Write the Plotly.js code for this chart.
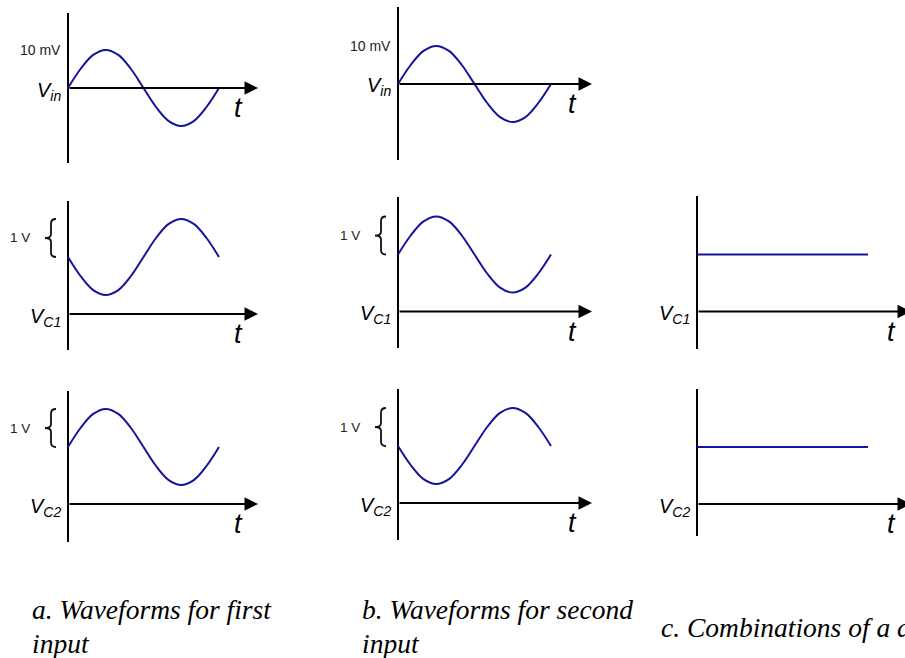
<!DOCTYPE html>
<html>
<head>
<meta charset="utf-8">
<script src="https://cdn.plot.ly/plotly-3.0.1.min.js"></script>
<style>html,body{margin:0;padding:0;background:#fff;}#chart{width:905px;height:658px;}</style>
</head>
<body>
<div id="chart"></div>
<script>
// ---- data ----
// time, in fractions of one period of the input signal
const tPeriod = [0, 0.083, 0.167, 0.25, 0.333, 0.417, 0.5, 0.583, 0.667, 0.75, 0.833, 0.917, 1];
// input signal, mV
const vinFirst  = [0, 5, 8.7, 10, 8.7, 5, 0, -5, -8.7, -10, -8.7, -5, 0];
const vinSecond = [0, 5, 8.7, 10, 8.7, 5, 0, -5, -8.7, -10, -8.7, -5, 0];
// collector voltages, V
const vc1First  = [1.5, 1.0, 0.63, 0.5, 0.63, 1.0, 1.5, 2.0, 2.37, 2.5, 2.37, 2.0, 1.5];
const vc2First  = [1.5, 2.0, 2.37, 2.5, 2.37, 2.0, 1.5, 1.0, 0.63, 0.5, 0.63, 1.0, 1.5];
const vc1Second = [1.5, 2.0, 2.37, 2.5, 2.37, 2.0, 1.5, 1.0, 0.63, 0.5, 0.63, 1.0, 1.5];
const vc2Second = [1.5, 1.0, 0.63, 0.5, 0.63, 1.0, 1.5, 2.0, 2.37, 2.5, 2.37, 2.0, 1.5];
// combined (DC) collector voltages, V
const tComb   = [0, 1.11];
const vc1Comb = [1.5, 1.5];
const vc2Comb = [1.5, 1.5];
// text
const inputAmplitudeLabel = '10 mV';
const inputAmplitude = 10;
const swingLabel = '1 V';
const captions = [
  ['a. Waveforms for first', 'input'],
  ['b. Waveforms for second', 'input'],
  ['c. Combinations of a and b']
];

// ---- layout geometry (pixels) ----
const W = 905, H = 658;
const PADL = 40;
const WAVE = '#14149a';
const panels = [
  {x0:68,  tip:258, top:13,  bot:163, zero:88,    pxT:151, pxU:3.8, t:tPeriod, v:vinFirst,  lab:'<i>V<sub>in</sub></i>', kind:'in'},
  {x0:68,  tip:258, top:201, bot:350, zero:314,   pxT:151, pxU:38,  t:tPeriod, v:vc1First,  lab:'<i>V<sub>C1</sub></i>', kind:'brace'},
  {x0:68,  tip:258, top:391, bot:542, zero:504,   pxT:151, pxU:38,  t:tPeriod, v:vc2First,  lab:'<i>V<sub>C2</sub></i>', kind:'brace'},
  {x0:398, tip:592, top:7,   bot:160, zero:84,    pxT:153, pxU:3.8, t:tPeriod, v:vinSecond, lab:'<i>V<sub>in</sub></i>', kind:'in'},
  {x0:398, tip:592, top:197, bot:348, zero:311.5, pxT:153, pxU:38,  t:tPeriod, v:vc1Second, lab:'<i>V<sub>C1</sub></i>', kind:'brace'},
  {x0:398, tip:592, top:389, bot:540, zero:503,   pxT:153, pxU:38,  t:tPeriod, v:vc2Second, lab:'<i>V<sub>C2</sub></i>', kind:'brace'},
  {x0:697, tip:911, top:196, bot:349, zero:311.5, pxT:154, pxU:38,  t:tComb,   v:vc1Comb,   lab:'<i>V<sub>C1</sub></i>', kind:'none'},
  {x0:697, tip:911, top:389, bot:536, zero:504,   pxT:154, pxU:38,  t:tComb,   v:vc2Comb,   lab:'<i>V<sub>C2</sub></i>', kind:'none'}
];

const traces = [];
const annotations = [];
const shapes = [];
const layout = {
  width: W, height: H,
  margin: {l:0, r:0, t:0, b:0, pad:0},
  paper_bgcolor: '#fff', plot_bgcolor: 'rgba(0,0,0,0)',
  showlegend: false,
  font: {family: 'Liberation Sans, Arial, sans-serif', color: '#000'}
};

panels.forEach((p, i) => {
  const n = i + 1;
  const xk = n === 1 ? 'xaxis' : 'xaxis' + n;
  const yk = n === 1 ? 'yaxis' : 'yaxis' + n;
  const xr = n === 1 ? 'x' : 'x' + n;
  const yr = n === 1 ? 'y' : 'y' + n;
  const right = Math.min(p.tip, W);
  const L = right - p.x0;
  // x axis: its zero line is the vertical voltage axis
  layout[xk] = {
    domain: [(p.x0 - PADL) / W, right / W], range: [-PADL / p.pxT, L / p.pxT],
    anchor: yr, showline: false, showgrid: false, ticks: '', showticklabels: false,
    zeroline: true, zerolinecolor: '#000', zerolinewidth: 2, fixedrange: true
  };
  layout[yk] = {
    domain: [1 - p.bot / H, 1 - p.top / H],
    range: [-(p.bot - p.zero) / p.pxU, (p.zero - p.top) / p.pxU],
    anchor: xr, visible: false, showgrid: false, zeroline: false, fixedrange: true
  };
  traces.push({x: p.t, y: p.v, xaxis: xr, yaxis: yr, mode: 'lines', hoverinfo: 'skip',
    line: {color: WAVE, width: 2, shape: p.kind === 'none' ? 'linear' : 'spline', smoothing: 1}});
  const tipT = (p.tip - p.x0) / p.pxT;
  // horizontal time axis with arrow
  annotations.push({xref: xr, yref: yr, x: tipT, y: 0, ax: 0, ay: 0, axref: xr, ayref: yr,
    text: '', showarrow: true, arrowhead: 2, arrowsize: 1.35, arrowwidth: 2, arrowcolor: '#000', standoff: 0});
  // t label
  annotations.push({xref: xr, yref: yr, x: (p.tip - 20 - p.x0) / p.pxT, y: 0, yshift: -20, text: '<i>t</i>',
    showarrow: false, font: {size: 27, family: 'Liberation Sans, Arial, sans-serif', color: '#000'}});
  // voltage name
  annotations.push({xref: xr, yref: yr, x: 0, y: 0, xanchor: 'right', xshift: -5, yshift: -3,
    text: p.lab, showarrow: false, font: {size: 20, family: 'Liberation Sans, Arial, sans-serif', color: '#000'}});
  if (p.kind === 'in') {
    annotations.push({xref: xr, yref: yr, x: 0, y: inputAmplitude, xanchor: 'right', xshift: -5,
      text: inputAmplitudeLabel, showarrow: false, font: {size: 14, color: '#222'}});
  }
  if (p.kind === 'brace') {
    const yb = p.v[0];
    const yt = Math.max(...p.v);
    const ym = (yb + yt) / 2;
    const c = 0.12, d = 0.1;
    const path = `M -12,${yt} Q -17,${yt} -17,${yt - c} L -17,${ym + d} Q -17,${ym} -23,${ym} ` +
                 `Q -17,${ym} -17,${ym - d} L -17,${yb + c} Q -17,${yb} -12,${yb}`;
    shapes.push({type: 'path', xref: xr, yref: yr, xsizemode: 'pixel', xanchor: 0, path: path,
      line: {color: '#111', width: 1.8}});
    annotations.push({xref: xr, yref: yr, x: 0, y: ym, xanchor: 'right', xshift: -36,
      text: swingLabel, showarrow: false, font: {size: 13.5, color: '#222'}});
  }
});

// captions
const capFont = {family: 'Liberation Serif, Times New Roman, serif', size: 27.5, color: '#000'};
const capPos = [
  {x: 30, ys: [609, 643]},
  {x: 360, ys: [609, 643]},
  {x: 659, ys: [627]}
];
captions.forEach((lines, i) => {
  lines.forEach((txt, j) => {
    annotations.push({xref: 'paper', yref: 'paper', x: capPos[i].x / W, y: 1 - capPos[i].ys[j] / H,
      xanchor: 'left', yanchor: 'middle', text: '<i>' + txt + '</i>', showarrow: false, font: capFont});
  });
});

layout.annotations = annotations;
layout.shapes = shapes;
Plotly.newPlot('chart', traces, layout, {displayModeBar: false, staticPlot: true});
</script>
</body>
</html>
